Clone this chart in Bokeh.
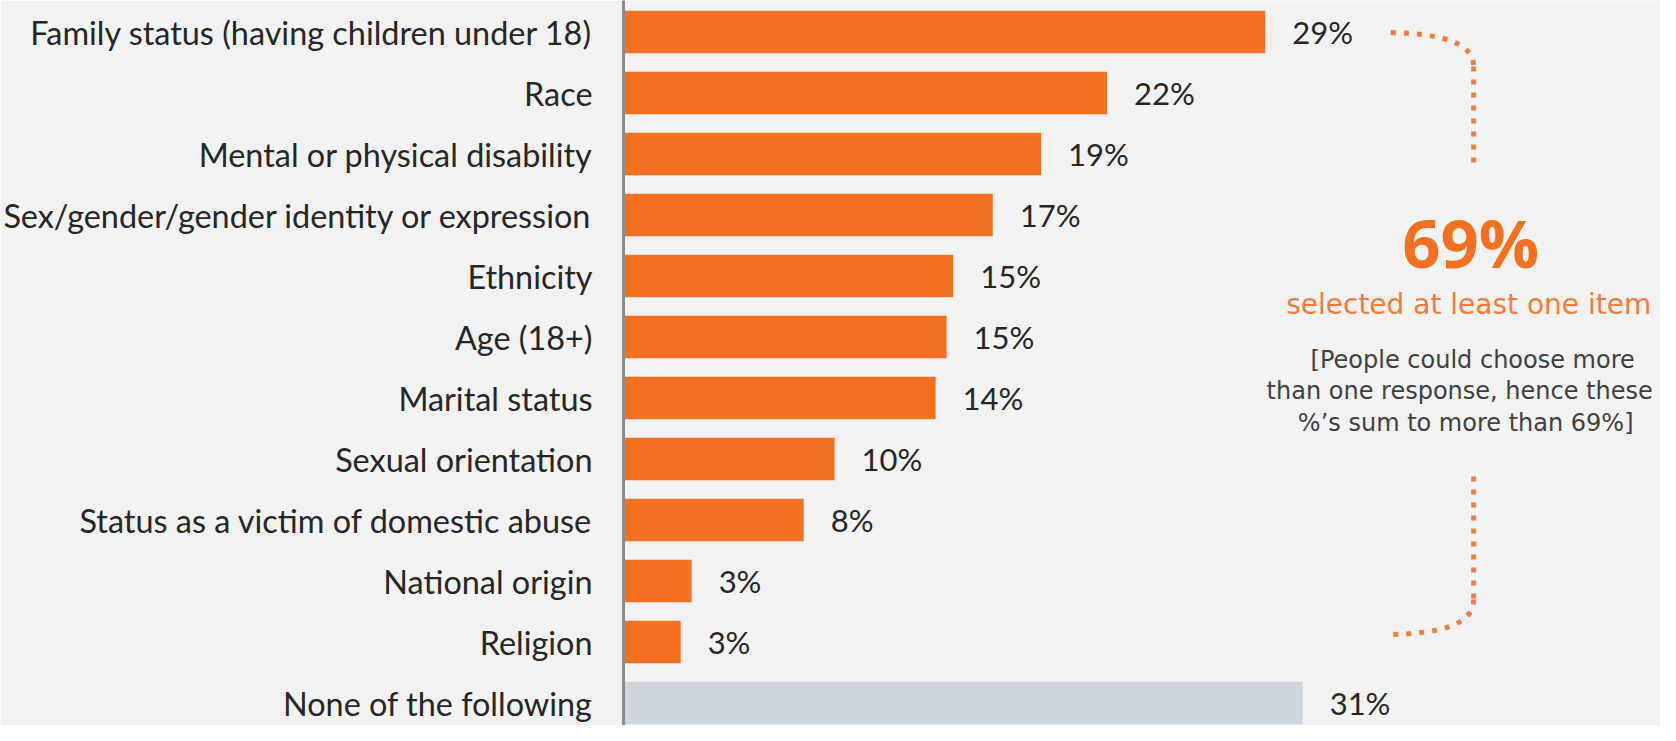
from bokeh.plotting import figure
from bokeh.models import Range1d, FixedTicker, Label
from bokeh.core.properties import value
from bokeh.embed import file_html
from bokeh.resources import INLINE

# ---------------- data ----------------
categories = [
    "Family status (having children under 18)",
    "Race",
    "Mental or physical disability",
    "Sex/gender/gender identity or expression",
    "Ethnicity",
    "Age (18+)",
    "Marital status",
    "Sexual orientation",
    "Status as a victim of domestic abuse",
    "National origin",
    "Religion",
    "None of the following",
]
values = [29.2, 22.0, 19.0, 16.8, 15.0, 14.7, 14.2, 9.6, 8.2, 3.1, 2.6, 30.9]
value_labels = ["29%", "22%", "19%", "17%", "15%", "15%", "14%", "10%", "8%", "3%", "3%", "31%"]
groups = ["item"] * 11 + ["none"]
total_label = "69%"
total_text = "selected at least one item"
note_lines = ["[People could choose more", "than one response, hence these", "%\u2019s sum to more than 69%]"]

# ---------------- layout helpers ----------------
W, H = 1660, 725
FRAME_LEFT = 622
PX_PER_PCT = 22.0
PX_PER_ROW = 61.0
FIRST_ROW_PX = 31.5
Y_TOP = (len(categories) - 1) + FIRST_ROW_PX / PX_PER_ROW


def dx(px):
    return (px - FRAME_LEFT) / PX_PER_PCT


def dy(py):
    return Y_TOP - py / PX_PER_ROW


ORANGE = "#F37021"
LIGHT_ORANGE = "#F47B3D"
NONE_COLOR = "#CFD5DD"
BG = "#F2F2F2"
TEXT = "#262626"
group_colors = {"item": ORANGE, "none": NONE_COLOR}

n = len(categories)
ys = [n - 1 - i for i in range(n)]
colors = [group_colors[g] for g in groups]

p = figure(
    width=W, height=H,
    x_range=Range1d(0, dx(W)),
    y_range=Range1d(dy(H), Y_TOP),
    x_axis_location=None,
    output_backend="svg", toolbar_location=None,
    min_border_left=FRAME_LEFT, min_border_right=0,
    min_border_top=0, min_border_bottom=0,
    background_fill_color=BG, border_fill_color=BG,
    outline_line_color=None,
)
p.grid.visible = False

p.hbar(y=ys, left=0, right=values, height=0.70, color=colors, line_color=None)

p.text(x=values, y=ys, text=value_labels, x_offset=27, text_baseline="middle",
       text_align="left", text_font=value("Lato"), text_font_size="31px", text_color=TEXT)

ax = p.yaxis[0]
ax.ticker = FixedTicker(ticks=ys)
ax.major_label_overrides = {y: c for y, c in zip(ys, categories)}
ax.major_tick_line_color = None
ax.minor_tick_line_color = None
ax.major_tick_out = 0
ax.major_tick_in = 0
ax.major_label_standoff = 31
ax.major_label_text_font = "Lato"
ax.major_label_text_font_size = "32.4px"
ax.major_label_text_color = TEXT
ax.axis_line_color = "#8A8A8A"
ax.axis_line_width = 3

# ---------------- annotation ----------------
p.add_layout(Label(x=dx(1470), y=dy(241), text=total_label, text_align="center",
                   text_baseline="middle", text_font="Open Sans", text_font_style="bold",
                   text_font_size="67px", text_color=ORANGE))
p.add_layout(Label(x=dx(1468), y=dy(304), text=total_text, text_align="center",
                   text_baseline="middle", text_font="DejaVu Sans",
                   text_font_size="28px", text_color=LIGHT_ORANGE))
note_x = [1472, 1459, 1465]
note_y = [359.5, 390.5, 422.5]
for i, line in enumerate(note_lines):
    p.add_layout(Label(x=dx(note_x[i]), y=dy(note_y[i]), text=line, text_align="center",
                       text_baseline="middle", text_font="DejaVu Sans",
                       text_font_size="24px", text_color="#404040"))

# dotted bracket
bx, bx0 = 1473, 1390
p.bezier(x0=[dx(bx0), dx(bx)], y0=[dy(32), dy(599)],
         x1=[dx(bx), dx(bx0)], y1=[dy(66), dy(634)],
         cx0=[dx(1440), dx(bx)], cy0=[dy(33), dy(624)],
         cx1=[dx(bx), dx(1440)], cy1=[dy(42), dy(633)],
         line_color=LIGHT_ORANGE, line_width=5, line_dash="5 8")
p.segment(x0=[dx(bx), dx(bx)], y0=[dy(66), dy(476)],
          x1=[dx(bx), dx(bx)], y1=[dy(162), dy(599)],
          line_color=LIGHT_ORANGE, line_width=5, line_dash="5 8")

open("out.html", "w").write(file_html(p, INLINE))
